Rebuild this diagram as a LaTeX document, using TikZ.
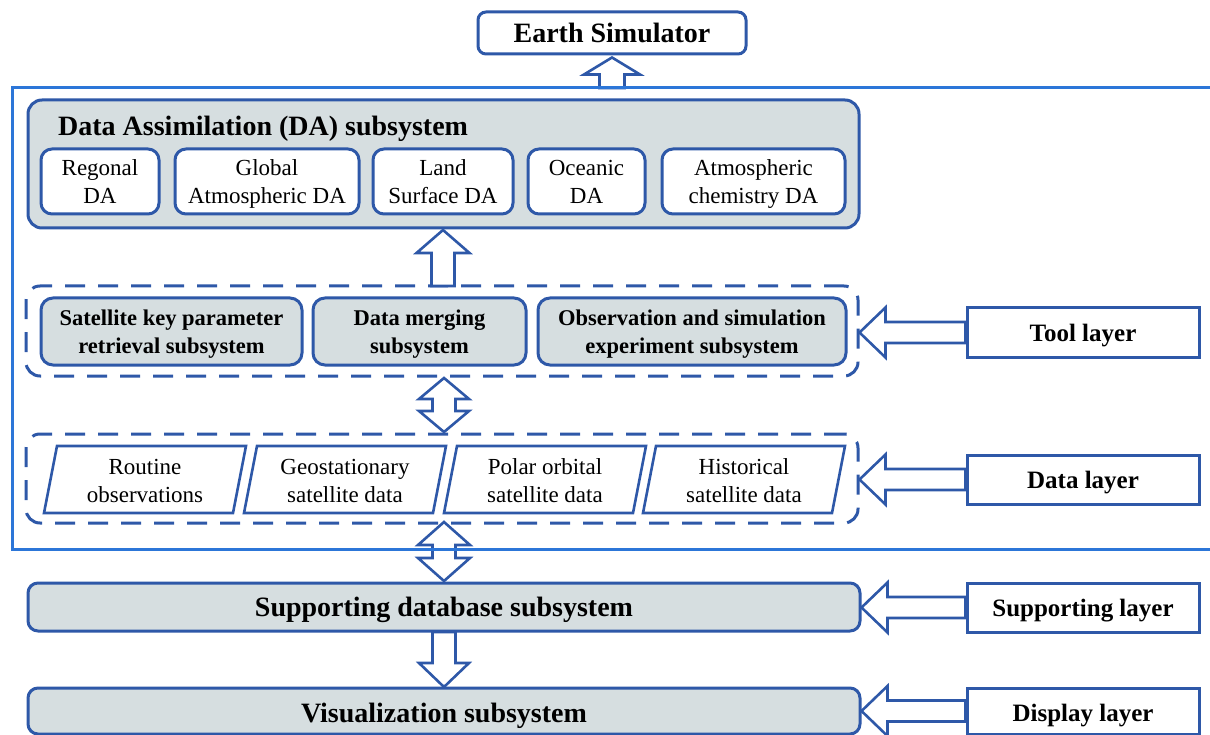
\documentclass[tikz,border=0pt]{standalone}
\usepackage{fontspec}
\setmainfont{Liberation Serif}
\usetikzlibrary{calc}
\definecolor{bb}{RGB}{46,88,168}
\definecolor{gf}{RGB}{214,222,224}
\definecolor{ob}{RGB}{44,118,216}
\newcommand{\fBig}{\fontsize{28}{32}\selectfont\bfseries}
\newcommand{\fLay}{\fontsize{25}{28}\selectfont\bfseries}
\newcommand{\fTool}{\fontsize{22.5}{28}\selectfont\bfseries}
\newcommand{\fReg}{\fontsize{23}{28}\selectfont}
% vertical up block arrow: bottom, tip, half shaft, half head, head length
\newcommand{\UpArr}[5]{\draw[barrow] let \p1=(#1), \p2=(#2) in
  (\x2-#3pt,\y1) -- (\x2-#3pt,\y2-#5pt) -- (\x2-#4pt,\y2-#5pt) -- (\x2,\y2)
  -- (\x2+#4pt,\y2-#5pt) -- (\x2+#3pt,\y2-#5pt) -- (\x2+#3pt,\y1) -- cycle;}
\newcommand{\DownArr}[5]{\draw[barrow] let \p1=(#1), \p2=(#2) in
  (\x2-#3pt,\y1) -- (\x2-#3pt,\y2+#5pt) -- (\x2-#4pt,\y2+#5pt) -- (\x2,\y2)
  -- (\x2+#4pt,\y2+#5pt) -- (\x2+#3pt,\y2+#5pt) -- (\x2+#3pt,\y1) -- cycle;}
% double vertical arrow: top tip, bottom tip, half shaft, half head, head length
\newcommand{\DblArr}[5]{\draw[barrow] let \p1=(#1), \p2=(#2) in
  (\x1,\y1) -- (\x1+#4pt,\y1-#5pt) -- (\x1+#3pt,\y1-#5pt) -- (\x1+#3pt,\y2+#5pt)
  -- (\x1+#4pt,\y2+#5pt) -- (\x1,\y2) -- (\x1-#4pt,\y2+#5pt) -- (\x1-#3pt,\y2+#5pt)
  -- (\x1-#3pt,\y1-#5pt) -- (\x1-#4pt,\y1-#5pt) -- cycle;}
% left block arrow: start (box west), tip
\newcommand{\LeftArr}[2]{\draw[barrow] let \p1=(#1), \p2=(#2) in
  (\x1,\y1+10.5pt) -- (\x2+26pt,\y1+10.5pt) -- (\x2+26pt,\y1+25pt) -- (\x2,\y1)
  -- (\x2+26pt,\y1-25pt) -- (\x2+26pt,\y1-10.5pt) -- (\x1,\y1-10.5pt) -- cycle;}
\tikzset{
  base/.style={draw=bb, line width=3pt, inner sep=0pt, align=center, text depth=0pt},
  grey/.style={base, fill=gf, rounded corners=14pt},
  wbox/.style={base, fill=white, rounded corners=11pt},
  layerbox/.style={base, fill=white, font=\fLay},
  dframe/.style={draw=bb, line width=3pt, dash pattern=on 20pt off 13pt, rounded corners=14pt, inner sep=0pt},
  para/.style={draw=bb, line width=2.6pt, fill=white, line join=miter},
  ptext/.style={font=\fReg, align=center, inner sep=0pt, text depth=0pt},
  barrow/.style={draw=bb, line width=2.6pt, fill=white, line join=miter},
}
\begin{document}
\begin{tikzpicture}[x=1pt,y=-1pt]
\useasboundingbox (0,0) rectangle (1210,735);

% Earth simulator
\node[wbox, rounded corners=8pt, minimum width=268, minimum height=42, font=\fBig] (es) at (612,33) {Earth Simulator};

% DA subsystem
\node[grey, minimum width=831, minimum height=128] (da) at (443.5,164) {};
\node[anchor=west, inner sep=0pt, font=\fBig] (datitle) at (58,128.5) {Data Assimilation (DA) subsystem};
\node[wbox, minimum width=118, minimum height=65, font=\fReg] (r1) at (100,181.5) {Regonal\\DA};
\node[wbox, minimum width=184, minimum height=65, font=\fReg] (r2) at (267,181.5) {Global\\Atmospheric\ DA};
\node[wbox, minimum width=140, minimum height=65, font=\fReg] (r3) at (443,181.5) {Land\\Surface DA};
\node[wbox, minimum width=117, minimum height=65, font=\fReg] (r4) at (586.5,181.5) {Oceanic\\DA};
\node[wbox, minimum width=183, minimum height=65, font=\fReg] (r5) at (753.5,181.5) {Atmospheric\\chemistry DA};

% Tool layer frame
\node[dframe, minimum width=832, minimum height=90] (tool) at (442,331) {};
\node[grey, rounded corners=12pt, minimum width=261, minimum height=67, font=\fTool] (t1) at (171.5,331.5) {Satellite key parameter\\retrieval subsystem};
\node[grey, rounded corners=12pt, minimum width=213, minimum height=67, font=\fTool] (t2) at (419.5,331.5) {Data merging\\subsystem};
\node[grey, rounded corners=12pt, minimum width=308, minimum height=67, font=\fTool] (t3) at (692,331.5) {Observation and simulation\\experiment subsystem};

% Data layer frame
\node[dframe, minimum width=832, minimum height=89] (data) at (442,478.5) {};
\draw[para] (44,513) -- (233,513) -- (246,446) -- (57,446) -- cycle;
\draw[para] (244,513) -- (433,513) -- (446,446) -- (257,446) -- cycle;
\draw[para] (444,513) -- (633,513) -- (646,446) -- (457,446) -- cycle;
\draw[para] (643,513) -- (832,513) -- (845,446) -- (656,446) -- cycle;
\node[ptext] (d1) at (145,480.5) {Routine\\observations};
\node[ptext] (d2) at (345,480.5) {Geostationary\\satellite data};
\node[ptext] (d3) at (545,480.5) {Polar orbital\\satellite data};
\node[ptext] (d4) at (744,480.5) {Historical\\satellite data};

% Supporting and visualization
\node[grey, rounded corners=10pt, minimum width=832, minimum height=48, font=\fBig] (sup) at (444,607) {Supporting database subsystem};
\node[grey, rounded corners=10pt, minimum width=832, minimum height=46, font=\fBig] (vis) at (444,711) {\raisebox{-3pt}{Visualization subsystem}};

% Layer labels
\node[layerbox, minimum width=232, minimum height=49] (ltool) at (1083,332.5) {Tool layer};
\node[layerbox, minimum width=232, minimum height=49] (ldata) at (1083,479.5) {Data layer};
\node[layerbox, minimum width=232, minimum height=49] (lsup) at (1083,607.5) {Supporting layer};
\node[layerbox, minimum width=232, minimum height=46] (ldisp) at (1083,711) {\raisebox{-3pt}{Display layer}};

% arrows
\coordinate (esb) at (612,88);
\coordinate (est) at ($(es.south)+(0,2)$);
\UpArr{esb}{est}{12.5}{28}{17}
\coordinate (tdb) at (443,286);
\coordinate (tdt) at (443,230);
\UpArr{tdb}{tdt}{11.5}{26.5}{23}
\coordinate (dd1) at (444,378);
\coordinate (dd2) at (444,432);
\DblArr{dd1}{dd2}{11.5}{25}{21}
\coordinate (ds1) at (444,522);
\coordinate (ds2) at (444,581);
\DblArr{ds1}{ds2}{11.5}{26}{23}
\coordinate (sv1) at (444,632);
\coordinate (sv2) at (444,687);
\DownArr{sv1}{sv2}{11.5}{25}{24}

\coordinate (tip1) at (tool.east);
\LeftArr{ltool.west}{tip1}
\coordinate (tip2) at (data.east);
\LeftArr{ldata.west}{tip2}
\LeftArr{lsup.west}{sup.east}
\LeftArr{ldisp.west}{vis.east}

% outer frame
\draw[ob, line width=3pt] (1212,88) -- (12,88) -- (12,549) -- (1212,549);
\end{tikzpicture}
\end{document}
